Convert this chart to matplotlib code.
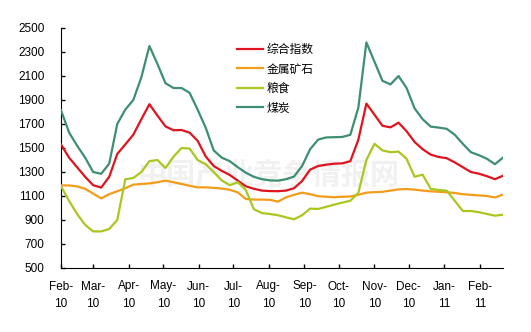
import pandas as pd
import matplotlib.pyplot as plt
import matplotlib.dates as mdates

plt.rcParams['font.family'] = ['Liberation Sans', 'Noto Sans CJK SC', 'DejaVu Sans']

# weekly observations, Feb 2010 - Feb 2011
dates = pd.date_range("2010-02-01", periods=56, freq="7D")

composite = [1530, 1420, 1340, 1260, 1190, 1170, 1260, 1450, 1530, 1611,
             1740, 1865, 1770, 1680, 1648, 1650, 1628, 1560, 1430, 1350,
             1310, 1275, 1228, 1181, 1160, 1145, 1141, 1140, 1145, 1165,
             1225, 1320, 1350, 1361, 1369, 1372, 1390, 1569, 1870, 1778,
             1685, 1672, 1711, 1640, 1550, 1490, 1445, 1425, 1415, 1380,
             1340, 1300, 1286, 1265, 1240, 1269]
metal_ore = [1189, 1188, 1180, 1160, 1120, 1080, 1115, 1140, 1165, 1195,
             1200, 1205, 1215, 1228, 1215, 1200, 1185, 1172, 1172, 1168,
             1162, 1152, 1130, 1075, 1070, 1070, 1068, 1053, 1089, 1110,
             1128, 1115, 1098, 1094, 1090, 1094, 1096, 1110, 1128, 1132,
             1135, 1145, 1155, 1158, 1153, 1145, 1139, 1135, 1131, 1125,
             1115, 1110, 1105, 1100, 1088, 1111]
grain = [1181, 1060, 950, 860, 805, 805, 825, 900, 1239, 1250,
         1300, 1390, 1400, 1333, 1428, 1500, 1495, 1400, 1365, 1300,
         1230, 1190, 1214, 1150, 990, 958, 950, 940, 922, 906,
         940, 995, 992, 1010, 1028, 1045, 1060, 1125, 1400, 1535,
         1480, 1465, 1470, 1410, 1260, 1278, 1160, 1150, 1144, 1060,
         975, 975, 965, 950, 936, 944]
coal = [1815, 1630, 1520, 1420, 1300, 1285, 1370, 1700, 1820, 1900,
        2090, 2350, 2200, 2040, 2000, 2000, 1960, 1820, 1670, 1480,
        1420, 1390, 1340, 1294, 1260, 1240, 1230, 1228, 1240, 1262,
        1350, 1490, 1570, 1588, 1590, 1592, 1610, 1836, 2380, 2220,
        2060, 2030, 2100, 2000, 1830, 1740, 1678, 1670, 1660, 1610,
        1535, 1465, 1440, 1410, 1365, 1420]

names = ['综合指数', '金属矿石', '粮食', '煤炭']
colors = ['#e0141e', '#f39c1a', '#a8c820', '#3d8f6f']

fig = plt.figure(figsize=(5.31, 3.32), dpi=100)
ax = fig.add_axes([61 / 531, 1 - 268 / 332, 442 / 531, 240 / 332])

# faint watermark
ax.text(0.47, 0.39, '中国产业竞争情报网', transform=ax.transAxes, ha='center', va='center',
        fontsize=21, fontweight='bold', color='#f1f1f1', zorder=0,
        family=['Noto Sans CJK SC'])

for vals, name, c in zip([composite, metal_ore, grain, coal], names, colors):
    ax.plot(dates, vals, color=c, lw=1.6, label=name, zorder=3,
            solid_joinstyle='round')

ax.set_ylim(500, 2500)
ax.set_yticks(range(500, 2501, 200))
ax.set_xlim(pd.Timestamp("2010-02-01"), pd.Timestamp("2011-02-21"))
ticks = pd.date_range("2010-02-01", "2011-02-01", freq="MS")
ax.set_xticks(ticks)
ax.set_xticklabels([d.strftime('%b-') + '\n' + d.strftime('%y') for d in ticks])

ax.spines['top'].set_visible(False)
ax.spines['right'].set_visible(False)
ax.tick_params(axis='both', direction='in', length=3, labelsize=8.5, width=1)
ax.tick_params(axis='y', pad=12)
ax.tick_params(axis='x', pad=9)
for lbl in ax.get_xticklabels():
    lbl.set_linespacing(1.6)

leg = ax.legend(loc='upper left', bbox_to_anchor=(176 / 442, 1 - 15 / 240), frameon=False,
                handlelength=2.2, handletextpad=0.3, labelspacing=0.55,
                borderpad=0, borderaxespad=0, prop={'family': ['Noto Sans CJK SC'], 'size': 8.5})

fig.savefig('out.png', dpi=100)
